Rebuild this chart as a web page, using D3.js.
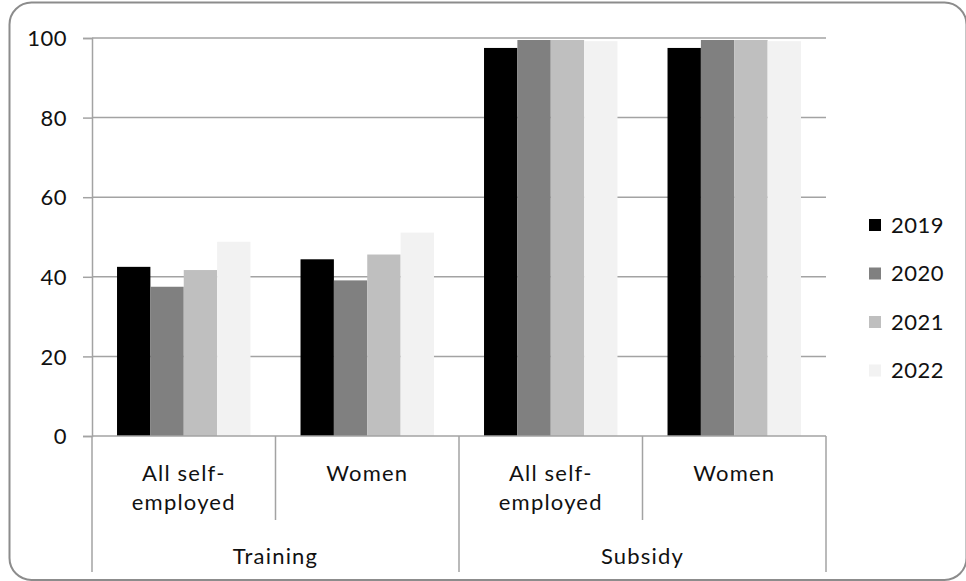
<!DOCTYPE html>
<html>
<head>
<meta charset="utf-8">
<script src="https://cdn.jsdelivr.net/npm/d3@7"></script>
<style>
    body { margin: 0; background: #fff; }
    svg text { font-family: Lato, "Open Sans", sans-serif; fill: #111; }
</style>
</head>
<body>
<div id="chart"></div>
<script>

var w = 966,
    h = 581;

// chart data
var groups = ["Training", "Training", "Subsidy", "Subsidy"],
    subgroups = ["All self-|employed", "Women", "All self-|employed", "Women"],
    years = ["2019", "2020", "2021", "2022"],
    colors = ["#000000", "#808080", "#bfbfbf", "#f2f2f2"],
    yticks = [0, 20, 40, 60, 80, 100];

var values = {
    "2019": [42.5, 44.4, 97.5, 97.5],
    "2020": [37.5, 39.1, 99.5, 99.5],
    "2021": [41.7, 45.6, 99.5, 99.5],
    "2022": [48.8, 51.1, 99.2, 99.2]
};

var margin = {left: 92, right: 140, top: 38, bottom: 145};

var svg = d3.select("#chart").append("svg")
    .attr("width", w)
    .attr("height", h);

// rounded frame
svg.append("rect")
    .attr("x", 9.5)
    .attr("y", 2.5)
    .attr("width", w - 9)
    .attr("height", h - 3.5)
    .attr("rx", 22)
    .attr("fill", "none")
    .attr("stroke", "#8c8c8c")
    .attr("stroke-width", 2);

// scales
var keys = d3.range(subgroups.length);

var x0 = d3.scaleBand()
    .domain(keys)
    .range([margin.left, w - margin.right])
    .padding(0);

var x1 = d3.scaleBand()
    .domain(years)
    .range([0, x0.bandwidth()])
    .paddingInner(0)
    .paddingOuter(0.75);

var y = d3.scaleLinear()
    .domain([0, 100])
    .range([h - margin.bottom, margin.top]);

var gridcolor = "#a3a3a3";

// gridlines
svg.append("g")
    .selectAll("line")
    .data(yticks.filter(function(d) { return d > 0; }))
    .enter().append("line")
        .attr("x1", margin.left)
        .attr("x2", w - margin.right)
        .attr("y1", function(d) { return y(d); })
        .attr("y2", function(d) { return y(d); })
        .attr("stroke", gridcolor)
        .attr("stroke-width", 1.5);

// y axis
var yaxis = svg.append("g")
    .attr("transform", "translate(" + margin.left + ",0)")
    .call(d3.axisLeft(y).tickValues(yticks).tickSize(9).tickPadding(16));

yaxis.select(".domain").attr("stroke", gridcolor).attr("stroke-width", 1.5);
yaxis.selectAll(".tick line").attr("stroke", gridcolor).attr("stroke-width", 1.5);
yaxis.selectAll(".tick text")
    .style("font-size", "22px")
    .style("letter-spacing", "0.5px")
    .attr("fill", "#111")
    .attr("dy", "0.35em");

// bars
years.forEach(function(yr, j) {
    svg.append("g")
        .selectAll("rect")
        .data(values[yr])
        .enter().append("rect")
            .attr("x", function(d, i) { return x0(i) + x1(yr); })
            .attr("width", x1.bandwidth())
            .attr("y", function(d) { return y(d); })
            .attr("height", function(d) { return y(0) - y(d); })
            .attr("fill", colors[j]);
});

// baseline
svg.append("line")
    .attr("x1", margin.left)
    .attr("x2", w - margin.right)
    .attr("y1", y(0))
    .attr("y2", y(0))
    .attr("stroke", gridcolor)
    .attr("stroke-width", 1.5);

// category dividers
var base = y(0);
var bounds = keys.concat([keys.length]);

svg.append("g")
    .selectAll("line")
    .data(bounds)
    .enter().append("line")
        .attr("x1", function(d) { return d < keys.length ? x0(d) : x0(d - 1) + x0.bandwidth(); })
        .attr("x2", function(d) { return d < keys.length ? x0(d) : x0(d - 1) + x0.bandwidth(); })
        .attr("y1", base)
        .attr("y2", function(d) {
            // group edges run down past the group labels
            var edge = d === 0 || d === keys.length || groups[d] !== groups[d - 1];
            return edge ? 572 : 520;
        })
        .attr("stroke", gridcolor)
        .attr("stroke-width", 1.5);

// subgroup labels
keys.forEach(function(k) {
    var lines = subgroups[k].split("|");
    var t = svg.append("text")
        .attr("x", x0(k) + x0.bandwidth() / 2)
        .attr("y", 481)
        .attr("text-anchor", "middle")
        .style("font-size", "22px")
        .style("letter-spacing", "1.2px");
    lines.forEach(function(l, i) {
        t.append("tspan")
            .attr("x", x0(k) + x0.bandwidth() / 2)
            .attr("dy", i === 0 ? 0 : 29)
            .text(l);
    });
});

// group labels
var grouplist = Array.from(new Set(groups));
grouplist.forEach(function(g) {
    var idx = keys.filter(function(k) { return groups[k] === g; });
    var left = x0(idx[0]),
        right = x0(idx[idx.length - 1]) + x0.bandwidth();
    svg.append("text")
        .attr("x", (left + right) / 2)
        .attr("y", 564)
        .attr("text-anchor", "middle")
        .style("font-size", "22px")
        .style("letter-spacing", "1.2px")
        .text(g);
});

// legend
var legend = svg.append("g")
    .attr("transform", "translate(869, 225)");

years.forEach(function(yr, i) {
    legend.append("rect")
        .attr("x", 0)
        .attr("y", i * 48.5 - 6)
        .attr("width", 12)
        .attr("height", 12)
        .attr("fill", colors[i]);

    legend.append("text")
        .attr("x", 22)
        .attr("y", i * 48.5)
        .attr("dy", "0.36em")
        .style("font-size", "22px")
        .style("letter-spacing", "0.5px")
        .text(yr);
});

</script>
</body>
</html>
